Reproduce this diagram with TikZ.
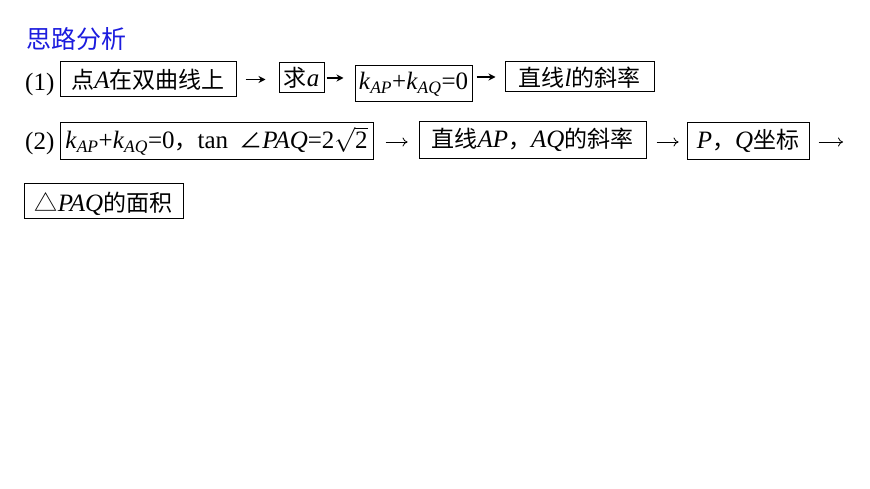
\documentclass[tikz,border=0pt]{standalone}
\usepackage{fontspec}
\setmainfont{Liberation Serif}
\newfontfamily\cjk{Noto Sans CJK SC}
\usetikzlibrary{arrows.meta}
\definecolor{titleblue}{RGB}{28,28,222}
\newcommand\zh[1]{{\cjk\fontsize{23}{28}\selectfont #1}}
\newcommand\ksub[1]{\textit{k}\textsubscript{\textit{#1}}}
\begin{document}
\begin{tikzpicture}[x=1pt,y=-1pt,
  every node/.style={font=\fontsize{25}{30}\selectfont, inner sep=0pt},
  box/.style={draw, line width=1pt, text height=18pt, text depth=3pt},
  arrA/.style={line width=1.2pt, -{Stealth[length=7pt,width=7pt]}},
  arrB/.style={line width=0.8pt, -{To[length=5pt,width=9pt]}}]
\useasboundingbox (0,0) rectangle (870,489);
\node[anchor=west, text=titleblue] (title) at (26,39) {{\cjk\fontsize{25}{30}\selectfont 思路分析}};
% row 1
\node[anchor=base west] (l1) at (25,91) {(1)};
\node[box, minimum width=176pt, minimum height=35pt, text height=20pt, text depth=1pt] (b1) at (148,79.5) {\zh{点}\textit{A}\zh{在双曲线上}};
\node[box, minimum width=45pt, minimum height=30pt, text height=19pt, text depth=1pt] (b2) at (301.5,78) {\zh{求}\textit{a}};
\node[box, minimum width=117pt, minimum height=36pt, text height=16pt, text depth=4pt] (b3) at (413.5,84) {\ksub{AP}+\ksub{AQ}=0};
\node[box, minimum width=149pt, minimum height=30pt, text height=20pt, text depth=0pt] (b4) at (579.5,77) {\zh{直线}\textit{l}\zh{的斜率}};
\draw[arrA, shorten <=9pt, shorten >=13pt] (b1.east) -- (b1.east -| b2.west);
\draw[arrA, shorten <=2pt, shorten >=11pt] (b2.east) -- (b2.east -| b3.west);
\draw[arrA, shorten <=4pt, shorten >=9pt] (b3.east |- b4.west) -- (b4.west);
% row 2
\node[anchor=base west] (l2) at (25,150) {(2)};
\node[box, minimum width=313pt, minimum height=37pt] (b5) at (216.5,141.5) {\ksub{AP}+\ksub{AQ}=0\zh{，}tan\hspace{0.45em}\zh{∠}\textit{PAQ}=2$\sqrt{\mbox{2}}$};
\node[box, minimum width=227pt, minimum height=37pt] (b6) at (532.5,140.5) {\zh{直线}\textit{AP}\zh{，}\textit{AQ}\zh{的斜率}};
\node[box, minimum width=122pt, minimum height=37pt] (b7) at (748,141) {\textit{P}\zh{，}\textit{Q}\zh{坐标}};
\coordinate (c8) at (843,142);
\draw[arrB, shorten <=12pt, shorten >=11pt] (b5.east |- c8) -- (b6.west |- c8);
\draw[arrB, shorten <=10pt, shorten >=8pt] (b6.east |- c8) -- (b7.west |- c8);
\draw[arrB, shorten <=9pt] (b7.east |- c8) -- (c8);
% row 3
\node[box, minimum width=159pt, minimum height=35pt, text height=21pt, text depth=0pt] (b8) at (103.5,201.5) {\zh{△}\textit{PAQ}\zh{的面积}};
\end{tikzpicture}
\end{document}
